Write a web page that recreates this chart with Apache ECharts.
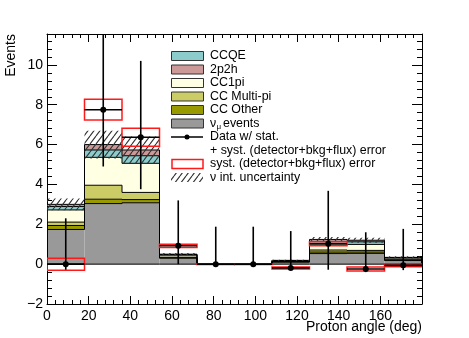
<!DOCTYPE html>
<html>
<head>
<meta charset="utf-8">
<script src="https://cdn.jsdelivr.net/npm/echarts@6/dist/echarts.min.js"></script>
<style>html,body{margin:0;padding:0;background:#fff}#chart{width:469px;height:338px}</style>
</head>
<body>
<div id="chart"></div>
<script>
// binning (deg)
var binEdges = [0, 18, 36, 54, 72, 90, 108, 126, 144, 162, 180];
var binCenters = [9, 27, 45, 63, 81, 99, 117, 135, 153, 171];

// MC stack, bottom -> top
var nuMuEvents = [1.74, 3.04, 3.08, 0.30, 0, 0, 0.10, 0.53, 0.54, 0.18];
var ccOther    = [0.20, 0.22, 0.16, 0.02, 0, 0, 0.02, 0.08, 0.07, 0.03];
var ccMultiPi  = [0.17, 0.70, 0.36, 0.03, 0, 0, 0.02, 0.10, 0.08, 0.04];
var cc1pi      = [0.61, 1.40, 1.46, 0.10, 0, 0, 0.03, 0.30, 0.30, 0.06];
var ccqe       = [0.17, 0.37, 0.38, 0.03, 0, 0, 0.01, 0.13, 0.13, 0.02];
var twoP2h     = [0.11, 0.27, 0.29, 0.02, 0, 0, 0.01, 0.10, 0.08, 0.01];
var nuIntUnc   = [0.30, 0.70, 0.67, 0.06, 0, 0, 0.03, 0.12, 0.12, 0.06];

// data
var dataValues  = [0, 7.75, 6.37, 0.92, 0, 0, -0.19, 1.02, -0.24, -0.06];
var statErrUp   = [2.30, 4.50, 3.83, 2.28, 1.88, 1.88, 1.85, 2.66, 1.84, 1.83];
var statErrDown = [0.28, 2.85, 2.61, 0.92, 0, 0, 0.12, 1.30, 0.16, 0.24];
var systErr     = [0.30, 0.52, 0.45, 0.08, 0.02, 0.02, 0.05, 0.10, 0.10, 0.07];

var FONT = '"Liberation Sans", Arial, sans-serif';

var stackParts = [
  {name: 'ν_μ events', vals: nuMuEvents, color: '#999999'},
  {name: 'CC Other', vals: ccOther, color: '#999900'},
  {name: 'CC Multi-pi', vals: ccMultiPi, color: '#cccc66'},
  {name: 'CC1pi', vals: cc1pi, color: '#ffffe4'},
  {name: 'CCQE', vals: ccqe, color: '#8ccccc'},
  {name: '2p2h', vals: twoP2h, color: '#cc9999'}
];

function hatchPattern() {
  var c = document.createElement('canvas');
  c.width = 6; c.height = 8;
  var g = c.getContext('2d');
  g.strokeStyle = '#333';
  g.lineWidth = 1.1;
  g.beginPath();
  g.moveTo(-6, 8); g.lineTo(0, 0);
  g.moveTo(0, 8); g.lineTo(6, 0);
  g.moveTo(6, 8); g.lineTo(12, 0);
  g.stroke();
  return {image: c, repeat: 'repeat'};
}
var hatch = hatchPattern();

function rectFrom(api, x0, x1, y0, y1) {
  var a = api.coord([x0, y1]), b = api.coord([x1, y0]);
  return {x: a[0], y: a[1], width: b[0] - a[0], height: b[1] - a[1]};
}

var series = [];
var cum = binCenters.map(function () { return 0; });
var outlines = [];
stackParts.forEach(function (p, k) {
  var rows = [];
  var prevCum = cum.slice();
  for (var i = 0; i < binCenters.length; i++) {
    var base = prevCum[i], top = base + p.vals[i];
    var prevTop = i > 0 ? prevCum[i - 1] + p.vals[i - 1] : 0;
    rows.push([binEdges[i], binEdges[i + 1], base, top, prevTop, i === binCenters.length - 1 ? 1 : 0]);
    cum[i] = top;
  }
  series.push({
    type: 'custom', name: p.name, clip: true, data: rows,
    renderItem: function (params, api) {
      var b = api.value(2), t = api.value(3);
      if (t <= b) return null;
      return {type: 'rect', shape: rectFrom(api, api.value(0), api.value(1), b, t), style: {fill: p.color}};
    }
  });
  outlines.push({
    type: 'custom', clip: true, data: rows,
    renderItem: function (params, api) {
      var x0 = api.value(0), x1 = api.value(1), t = api.value(3), pt = api.value(4);
      var pts = [api.coord([x0, pt]), api.coord([x0, t]), api.coord([x1, t])];
      if (api.value(5)) pts.push(api.coord([x1, 0]));
      var kids = [{type: 'polyline', shape: {points: pts}, style: {stroke: '#000', lineWidth: 1, fill: null}}];
      if (k === 0 && t > 0) {
        var a = api.coord([x0, 0]), b = api.coord([x1, 0]);
        kids.push({type: 'line', shape: {x1: a[0], y1: a[1], x2: b[0], y2: b[1]}, style: {stroke: '#000', lineWidth: 1}});
      }
      return {type: 'group', children: kids};
    }
  });
});
series = series.concat(outlines);

// interaction uncertainty hatch
var hatchRows = binCenters.map(function (c, i) {
  return [binEdges[i], binEdges[i + 1], cum[i] - nuIntUnc[i], cum[i] + nuIntUnc[i]];
});
series.push({
  type: 'custom', clip: true, data: hatchRows,
  renderItem: function (params, api) {
    if (api.value(3) <= api.value(2)) return null;
    return {type: 'rect', shape: rectFrom(api, api.value(0), api.value(1), api.value(2), api.value(3)), style: {fill: hatch}};
  }
});

// systematic boxes
var systRows = binCenters.map(function (c, i) {
  return [binEdges[i], binEdges[i + 1], dataValues[i] - systErr[i], dataValues[i] + systErr[i]];
});
series.push({
  type: 'custom', clip: true, data: systRows,
  renderItem: function (params, api) {
    return {type: 'rect', shape: rectFrom(api, api.value(0), api.value(1), api.value(2), api.value(3)),
      style: {fill: null, stroke: '#ff1a1a', lineWidth: 1.5}};
  }
});

// data points
var dataRows = binCenters.map(function (c, i) {
  return [c, binEdges[i], binEdges[i + 1], dataValues[i], statErrDown[i], statErrUp[i]];
});
series.push({
  type: 'custom', clip: true, data: dataRows,
  renderItem: function (params, api) {
    var xc = api.value(0), y = api.value(3);
    var pl = api.coord([api.value(1), y]), pr = api.coord([api.value(2), y]);
    var pb = api.coord([xc, y - api.value(4)]), pt = api.coord([xc, y + api.value(5)]);
    var pc = api.coord([xc, y]);
    return {type: 'group', children: [
      {type: 'line', shape: {x1: pl[0], y1: pl[1], x2: pr[0], y2: pr[1]}, style: {stroke: '#000', lineWidth: 1.6}},
      {type: 'line', shape: {x1: pb[0], y1: pb[1], x2: pt[0], y2: pt[1]}, style: {stroke: '#000', lineWidth: 1.6}},
      {type: 'circle', shape: {cx: pc[0], cy: pc[1], r: 3}, style: {fill: '#000'}}
    ]};
  }
});

function axis(pos, interval, min, max, len, major) {
  return {
    type: 'value', position: pos, min: min, max: max, interval: interval,
    axisLine: {show: major, onZero: false, lineStyle: {color: '#000', width: 1}},
    axisTick: {show: true, inside: true, length: len, lineStyle: {color: '#000', width: 1}},
    axisLabel: {show: major && (pos === 'bottom' || pos === 'left'), color: '#000', fontSize: 14, fontFamily: FONT,
      margin: pos === 'bottom' ? 5 : 4, showMaxLabel: false,
      formatter: function (v) { return String(v).replace('-', '\u2212'); }},
    splitLine: {show: false}
  };
}

var chart = echarts.init(document.getElementById('chart'), null, {renderer: 'canvas'});

var legendY = [56, 69.5, 83, 96.5, 110, 123.5, 137, 150.5, 164, 177.5];
var legendFill = [
  ['CCQE', '#8ccccc'], ['2p2h', '#cc9999'], ['CC1pi', '#ffffe4'],
  ['CC Multi-pi', '#cccc66'], ['CC Other', '#999900'], [null, '#999999']
];
var graphics = [];
function txt(s, x, y, size, extra) {
  var o = {type: 'text', x: x, y: y, style: {text: s, fill: '#000', font: size + 'px ' + FONT, verticalAlign: 'middle', align: 'left'}};
  if (extra) for (var k in extra) o.style[k] = extra[k];
  return o;
}
legendFill.forEach(function (f, i) {
  graphics.push({type: 'rect', shape: {x: 171.5, y: legendY[i] - 4.5, width: 32, height: 9}, style: {fill: f[1], stroke: '#333', lineWidth: 1}});
  if (f[0]) graphics.push(txt(f[0], 210, legendY[i], 12.4));
});
graphics.push(txt('ν', 210, legendY[5], 12.4));
graphics.push(txt('μ', 216.5, legendY[5] + 3, 8));
graphics.push(txt('events', 223, legendY[5], 12.4));
graphics.push({type: 'line', shape: {x1: 171, y1: legendY[6], x2: 203, y2: legendY[6]}, style: {stroke: '#000', lineWidth: 1.5}});
graphics.push({type: 'circle', shape: {cx: 187, cy: legendY[6], r: 2.5}, style: {fill: '#000'}});
graphics.push(txt('Data w/ stat.', 210, legendY[6], 12.4));
graphics.push(txt('+ syst. (detector+bkg+flux) error', 210, legendY[7], 12.4));
graphics.push({type: 'rect', shape: {x: 172, y: legendY[8] - 4.5, width: 31, height: 9}, style: {fill: null, stroke: '#ff1a1a', lineWidth: 1.5}});
graphics.push(txt('syst. (detector+bkg+flux) error', 210, legendY[8], 12.4));
graphics.push({type: 'rect', shape: {x: 171, y: legendY[9] - 4.5, width: 32, height: 9}, style: {fill: hatch}});
graphics.push(txt('ν int. uncertainty', 210, legendY[9], 12.4));
// axis titles
graphics.push({type: 'text', x: 11, y: 34, rotation: Math.PI / 2,
  style: {text: 'Events', fill: '#000', font: '14px ' + FONT, align: 'right', verticalAlign: 'middle'}});
graphics.push(txt('Proton angle (deg)', 422, 327, 14, {align: 'right'}));

chart.setOption({
  animation: false,
  backgroundColor: '#fff',
  grid: {left: 47, right: 47, top: 34, bottom: 34, containLabel: false},
  xAxis: [
    axis('bottom', 20, 0, 180, 8, true),
    axis('bottom', 4, 0, 180, 4, false),
    axis('top', 20, 0, 180, 8, true),
    axis('top', 4, 0, 180, 4, false)
  ],
  yAxis: [
    axis('left', 2, -2, 11.55, 10, true),
    axis('left', 0.4, -2, 11.55, 5, false),
    axis('right', 2, -2, 11.55, 10, true),
    axis('right', 0.4, -2, 11.55, 5, false)
  ],
  series: series,
  graphic: graphics
});
</script>
</body>
</html>
